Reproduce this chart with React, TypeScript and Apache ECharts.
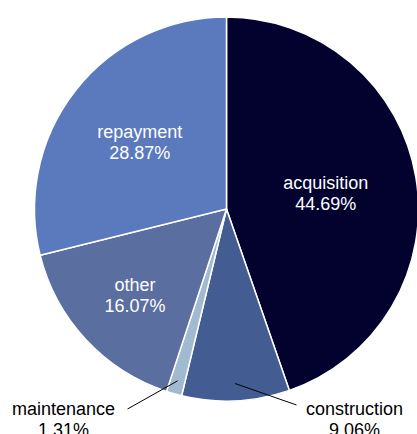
import React, { useEffect, useRef } from "react";
import * as echarts from "echarts";

const names = ["acquisition", "construction", "maintenance", "other", "repayment"];
const values = [44.69, 9.06, 1.31, 16.07, 28.87];
const colors = ["#03022f", "#435d93", "#a2bad0", "#5a6e9f", "#5b79bd"];

// layout (not data)
const CX = 226.5;
const CY = 209;
const R = 192;
const insideFrac: Record<number, number> = { 0: 0.524, 3: 0.65, 4: 0.573 };
const outsideLayout: Record<number, { start: number; end: [number, number]; label: [number, number] }> = {
  1: { start: 0.91, end: [70, 196], label: [128, 210] },
  2: { start: 0.93, end: [-99, 200], label: [-163, 210] },
};

export default function App() {
  const ref = useRef<HTMLDivElement>(null);
  useEffect(() => {
    if (!ref.current) return;
    const chart = echarts.init(ref.current, null, { renderer: "svg" });
    const total = values.reduce((a, b) => a + b, 0);
    const mids: number[] = [];
    let cum = 0;
    values.forEach((v) => {
      mids.push(((cum + v / 2) / total) * 2 * Math.PI);
      cum += v;
    });
    const guideLines = Object.keys(outsideLayout).map((k) => {
      const i = Number(k);
      const o = outsideLayout[i];
      const r = o.start * R;
      return {
        type: "line",
        z: 100,
        shape: {
          x1: CX + r * Math.sin(mids[i]),
          y1: CY - r * Math.cos(mids[i]),
          x2: CX + o.end[0],
          y2: CY + o.end[1],
        },
        style: { stroke: "#000000", lineWidth: 1 },
        silent: true,
      };
    });
    chart.setOption({
      animation: false,
      backgroundColor: "#ffffff",
      graphic: guideLines,
      series: [
        {
          type: "pie",
          center: [CX, CY],
          radius: R,
          startAngle: 90,
          clockwise: true,
          avoidLabelOverlap: false,
          itemStyle: { borderColor: "#ffffff", borderWidth: 1.5 },
          label: {
            formatter: "{b}\n{d}%",
            fontFamily: "Liberation Sans, Arial, sans-serif",
            fontSize: 18,
            lineHeight: 21,
          },
          labelLine: { show: false },
          labelLayout: (params: any) => {
            const i = params.dataIndex;
            const a = mids[i];
            const s = Math.sin(a);
            const c = Math.cos(a);
            if (insideFrac[i] !== undefined) {
              const r = insideFrac[i] * R;
              return { x: CX + r * s, y: CY - r * c + 1.5, align: "center", verticalAlign: "middle" };
            }
            const o = outsideLayout[i];
            return {
              x: CX + o.label[0],
              y: CY + o.label[1],
              align: "center",
              verticalAlign: "middle",
            };
          },
          data: names.map((n, i) => ({
            name: n,
            value: values[i],
            itemStyle: { color: colors[i] },
            label:
              insideFrac[i] !== undefined
                ? { position: "inside", color: "#ffffff" }
                : { position: "outside", color: "#000000" },
          })),
        },
      ],
    });
    return () => chart.dispose();
  }, []);
  return (
    <div
      ref={ref}
      style={{ position: "absolute", left: 0, top: 0, width: 417, height: 434, background: "#fff" }}
    />
  );
}
